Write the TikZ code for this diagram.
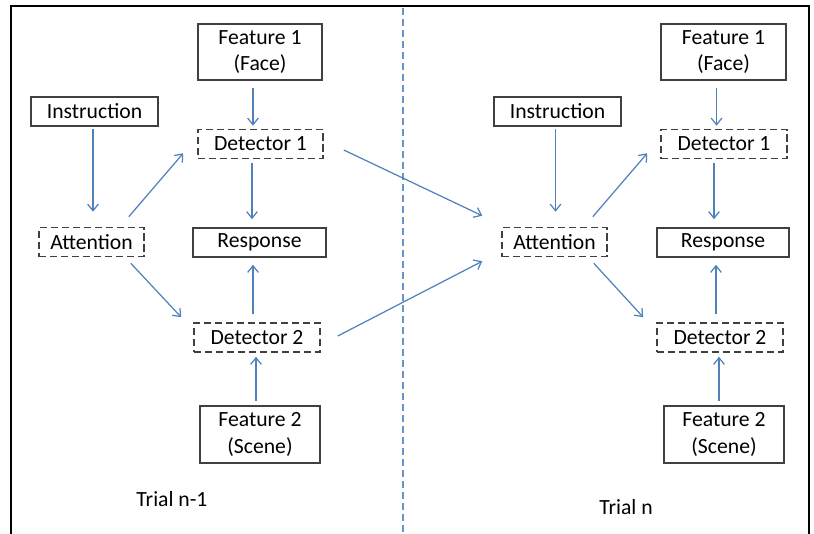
\documentclass[tikz,border=0pt]{standalone}
\usepackage{fontspec}
\setmainfont{Carlito}
\usetikzlibrary{arrows.meta}

\definecolor{linkblue}{RGB}{79,129,189}
\definecolor{boxgray}{RGB}{64,64,64}

\begin{document}
\begin{tikzpicture}[x=0.03cm, y=-0.03cm,
    every node/.style={font=\fontsize{18.5}{22.5}\selectfont},
    box/.style={draw=boxgray, line width=1.3pt, minimum height=0.87cm, align=center, inner sep=0pt},
    dbox/.style={box, dash pattern=on 0.22cm off 0.11cm},
    link/.style={draw=linkblue, line width=1.05pt, -{Straight Barb[length=0.2cm, width=0.32cm]}}]
    \useasboundingbox (0,0) rectangle (814,533);

    % frame and trial separator
    \draw[line width=1.9pt] (11,560) -- (11,6) -- (809,6) -- (809,560);
    \draw[linkblue!85, line width=1.05pt, dash pattern=on 0.21cm off 0.12cm] (403,8) -- (403,533);

    % trial n-1
    \node[box, minimum width=3.72cm, minimum height=1.68cm] (faceL) at (260,52) {Feature 1\\(Face)};
    \node[box, minimum width=3.81cm] (instrL) at (94.5,111.5) {Instruction};
    \node[dbox, minimum width=3.75cm] (detaL) at (260.5,144) {Detector 1};
    \node[dbox, minimum width=3.15cm] (attL) at (91.5,242) {Attention};
    \node[box, minimum width=3.99cm] (respL) at (259.5,242.5) {Response};
    \node[dbox, minimum width=3.78cm] (detbL) at (257,337.5) {Detector 2};
    \node[box, minimum width=3.6cm, minimum height=1.71cm] (sceneL) at (260,434.5) {Feature 2\\(Scene)};
    \node (trialL) at (172,499) {Trial n-1};

    % trial n
    \node[box, minimum width=3.75cm, minimum height=1.68cm] (faceR) at (723.5,52) {Feature 1\\(Face)};
    \node[box, minimum width=3.81cm] (instrR) at (557.5,111.5) {Instruction};
    \node[dbox, minimum width=3.78cm] (detaR) at (724,144) {Detector 1};
    \node[dbox, minimum width=3.15cm] (attR) at (554.5,242) {Attention};
    \node[box, minimum width=3.96cm] (respR) at (723,242.5) {Response};
    \node[dbox, minimum width=3.78cm] (detbR) at (720,337.5) {Detector 2};
    \node[box, minimum width=3.6cm, minimum height=1.71cm] (sceneR) at (724,434.5) {Feature 2\\(Scene)};
    \node (trialR) at (626,507) {Trial n};

    \draw[link] ([shift={(-7,7)}]faceL.south) -- ([shift={(-7.5,-3)}]detaL.north);
    \draw[link] ([shift={(-1.5,2)}]instrL.south) -- ([shift={(1.5,-15)}]attL.north);
    \draw[link] ([shift={(-16,-10)}]attL.north east) -- ([shift={(-14,-6)}]detaL.south west);
    \draw[link] ([shift={(-8.5,4)}]detaL.south) -- ([shift={(-7.5,-8)}]respL.north);
    \draw[link] ([shift={(-14,6)}]attL.south east) -- ([shift={(-12,-5)}]detbL.north west);
    \draw[link] ([shift={(-4,-8)}]detbL.north) -- ([shift={(-6.5,7)}]respL.south);
    \draw[link] ([shift={(-4,-4)}]sceneL.north) -- ([shift={(-1,4)}]detbL.south);

    \draw[link] ([shift={(20,6)}]detaL.east) -- ([shift={(-19,-11)}]attR.north west);
    \draw[link] ([shift={(17,-1.5)}]detbL.east) -- ([shift={(-19,4)}]attR.south west);

    \draw[link] ([shift={(-7,7)}]faceR.south) -- ([shift={(-7.5,-3)}]detaR.north);
    \draw[link] ([shift={(-2,2)}]instrR.south) -- ([shift={(1,-15)}]attR.north);
    \draw[link] ([shift={(-15,-10)}]attR.north east) -- ([shift={(-13,-6)}]detaR.south west);
    \draw[link] ([shift={(-10,4)}]detaR.south) -- ([shift={(-9,-8)}]respR.north);
    \draw[link] ([shift={(-14,6)}]attR.south east) -- ([shift={(-13,-5)}]detbR.north west);
    \draw[link] ([shift={(-4,-8)}]detbR.north) -- ([shift={(-7,7)}]respR.south);
    \draw[link] ([shift={(-5,-4)}]sceneR.north) -- ([shift={(-1,4)}]detbR.south);
\end{tikzpicture}
\end{document}
